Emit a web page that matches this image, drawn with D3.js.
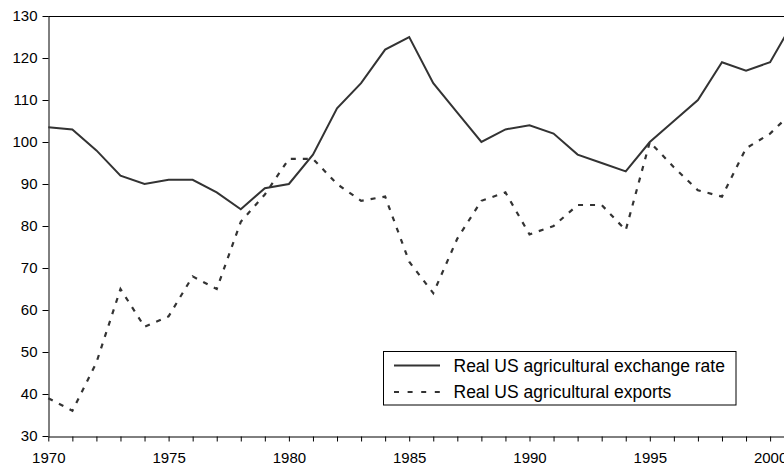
<!DOCTYPE html>
<html>
<head>
<meta charset="utf-8">
<script src="https://cdn.jsdelivr.net/npm/d3@7"></script>
<style>
  body { margin: 0; background: #fff; }
  svg { display: block; font-family: "Liberation Sans", Arial, sans-serif; }
</style>
</head>
<body>
<svg width="784" height="466"></svg>
<script>
// Data
const years = d3.range(1970, 2002);
const exchangeRate = [103.5, 103, 98, 92, 90, 91, 91, 88, 84, 89, 90, 97, 108, 114, 122, 125,
  114, 107, 100, 103, 104, 102, 97, 95, 93, 100, 105, 110, 119, 117, 119, 129];
const exportsIdx = [39, 36, 47.5, 65, 56, 58.5, 68, 65, 81, 87.5, 96, 96, 90, 86, 87, 71.5,
  64, 77, 86, 88, 78, 80, 85, 85, 79, 100, 94, 88.5, 87, 98.5, 102, 107.5];
const yTicks = d3.range(30, 131, 10);
const xLabels = d3.range(1970, 2001, 5);
const seriesNames = ["Real US agricultural exchange rate", "Real US agricultural exports"];

const svg = d3.select("svg");
const ink = "#333";

//Scales (one category per year, plot runs past the right edge of the picture)
const x = d3.scaleLinear().domain([1970, 2001]).range([48.3, 48.3 + 31 * 24.06]);
const y = d3.scaleLinear().domain([30, 130]).range([436, 16]);

//Plot frame: top and right border
svg.append("path")
  .attr("fill", "none")
  .attr("stroke", "#000")
  .attr("d", `M${x(1970)},${y(130) + 0.5}H${x(2001)}V${y(30)}`);

//Y axis
const yAxis = svg.append("g")
  .attr("transform", `translate(${Math.round(x(1970)) + 0.5},0)`)
  .call(d3.axisLeft(y).tickValues(yTicks).tickSize(6).tickPadding(5).tickSizeOuter(0));

//X axis, a tick every year, a label every five
const xAxis = svg.append("g")
  .attr("transform", `translate(0,${y(30) + 0.5})`)
  .call(d3.axisBottom(x).tickValues(years.slice(0, 31)).tickSize(5).tickPadding(11).tickSizeOuter(0)
    .tickFormat(d => xLabels.includes(d) ? d : ""));

[yAxis, xAxis].forEach(g => {
  g.select(".domain").attr("stroke", "#000");
  g.selectAll(".tick line").attr("stroke", "#000");
  g.selectAll("text").attr("fill", "#000").style("font-size", "15px").attr("font-family", null);
});

//Lines
const line = vals => d3.line()
  .x((d, i) => x(years[i]))
  .y(d => y(d))(vals);

svg.append("path")
  .attr("fill", "none")
  .attr("stroke", ink)
  .attr("stroke-width", 2)
  .attr("stroke-linejoin", "miter")
  .attr("d", line(exchangeRate));

svg.append("path")
  .attr("fill", "none")
  .attr("stroke", ink)
  .attr("stroke-width", 2.2)
  .attr("stroke-dasharray", "5,7")
  .attr("d", line(exportsIdx));

//Legend
const lg = svg.append("g").attr("transform", "translate(383.5,351.5)");
lg.append("rect")
  .attr("width", 352.5)
  .attr("height", 53.5)
  .attr("fill", "#fff")
  .attr("stroke", "#000");

seriesNames.forEach((name, i) => {
  const ly = 14 + i * 26.5;
  lg.append("line")
    .attr("x1", 10.5).attr("x2", 56.5)
    .attr("y1", ly).attr("y2", ly)
    .attr("stroke", ink)
    .attr("stroke-width", 2.2)
    .attr("stroke-dasharray", i ? "5,8.6" : null);
  lg.append("text")
    .attr("x", 70)
    .attr("y", ly)
    .attr("dy", "0.35em")
    .style("font-size", "17.5px")
    .text(name);
});
</script>
</body>
</html>
